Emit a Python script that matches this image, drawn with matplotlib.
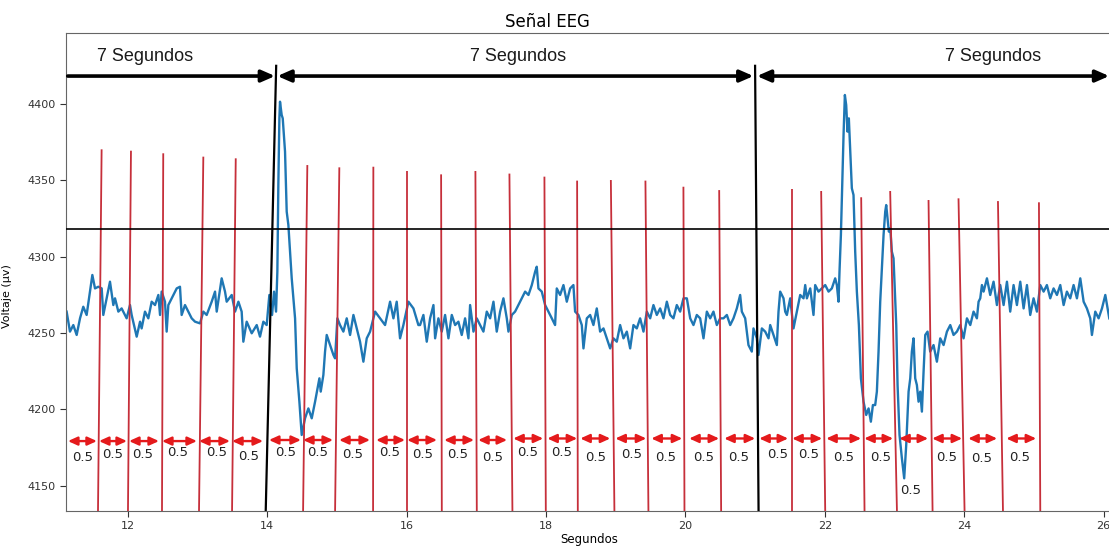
import matplotlib
matplotlib.use("Agg")
from matplotlib import pyplot as plt


# EEG trace (s, uV)
eeg_t = [
    11.124, 11.172, 11.220, 11.268, 11.316, 11.363, 11.411, 11.459, 11.493, 11.531,
    11.579, 11.627, 11.650, 11.746, 11.794, 11.818, 11.866, 11.913, 11.985, 12.033,
    12.057, 12.129, 12.177, 12.200, 12.248, 12.296, 12.344, 12.392, 12.440, 12.464,
    12.487, 12.535, 12.559, 12.583, 12.631, 12.703, 12.750, 12.774, 12.822, 12.870,
    12.918, 12.966, 13.038, 13.085, 13.133, 13.205, 13.253, 13.277, 13.348, 13.396,
    13.420, 13.492, 13.540, 13.588, 13.635, 13.659, 13.707, 13.779, 13.851, 13.898,
    13.946, 13.994, 14.032, 14.071, 14.099, 14.128, 14.147, 14.161, 14.176, 14.185,
    14.209, 14.224, 14.257, 14.281, 14.305, 14.329, 14.353, 14.401, 14.425, 14.463,
    14.496, 14.544, 14.592, 14.640, 14.688, 14.750, 14.769, 14.807, 14.831, 14.855,
    14.903, 14.951, 14.975, 15.008, 15.046, 15.094, 15.142, 15.190, 15.238, 15.285,
    15.333, 15.381, 15.429, 15.477, 15.549, 15.620, 15.692, 15.764, 15.812, 15.859,
    15.907, 15.955, 16.027, 16.099, 16.170,
    16.194, 16.242, 16.290, 16.338, 16.386, 16.410, 16.457, 16.505, 16.553, 16.601,
    16.649, 16.697, 16.744, 16.792, 16.840, 16.888, 16.912, 16.960, 17.007, 17.055,
    17.103, 17.151, 17.199, 17.247, 17.294, 17.342, 17.390, 17.438, 17.462, 17.510,
    17.557, 17.605, 17.653, 17.701, 17.749, 17.797, 17.845, 17.868, 17.892, 17.940,
    17.988, 18.036, 18.084, 18.131, 18.155, 18.203, 18.251, 18.299, 18.347, 18.394,
    18.418, 18.466, 18.514, 18.538, 18.586, 18.634, 18.681, 18.729, 18.777, 18.825,
    18.873, 18.921, 18.968, 19.016, 19.064, 19.112, 19.160, 19.208, 19.255, 19.303,
    19.351, 19.399, 19.447, 19.495, 19.542, 19.590, 19.638, 19.686, 19.734, 19.782,
    19.829, 19.877, 19.925, 19.973, 20.021, 20.069, 20.116, 20.164, 20.212, 20.260,
    20.308, 20.356, 20.403, 20.451, 20.499, 20.547, 20.595, 20.643, 20.690, 20.738,
    20.786, 20.810, 20.858, 20.905, 20.953,
    20.977, 21.025, 21.049, 21.097, 21.145, 21.193, 21.217, 21.264, 21.312, 21.336,
    21.360, 21.408, 21.432, 21.456, 21.504, 21.551, 21.599, 21.647, 21.695, 21.719,
    21.743, 21.791, 21.838, 21.862, 21.910, 21.958, 22.006, 22.054, 22.101, 22.149,
    22.173, 22.197, 22.211, 22.231, 22.250, 22.269, 22.288, 22.307, 22.326, 22.345,
    22.365, 22.388, 22.412, 22.436, 22.460, 22.489, 22.518, 22.556, 22.594, 22.628,
    22.661, 22.690, 22.723, 22.747, 22.771, 22.795, 22.819, 22.843, 22.867, 22.881,
    22.900, 22.919, 22.939, 22.962, 22.986, 23.005, 23.025, 23.044, 23.072, 23.106,
    23.139, 23.168, 23.202, 23.226, 23.249, 23.273, 23.297, 23.321, 23.345, 23.369,
    23.393, 23.417, 23.441, 23.474, 23.512, 23.560, 23.608, 23.656, 23.704, 23.752,
    23.800, 23.847, 23.895, 23.943, 23.991, 24.039, 24.087, 24.134, 24.182, 24.206,
    24.230, 24.254, 24.278, 24.326, 24.373, 24.421, 24.469, 24.517, 24.565, 24.613,
    24.660, 24.708, 24.756, 24.804, 24.852, 24.900, 24.947, 24.995, 25.043, 25.091,
    25.139, 25.186, 25.234, 25.282, 25.330, 25.378, 25.426, 25.473, 25.521, 25.569,
    25.617, 25.665, 25.713, 25.760, 25.808, 25.832, 25.880, 25.928, 25.976, 26.024,
    26.081,
]
eeg_v = [
    4264.0, 4250.9, 4255.2, 4248.7, 4259.6, 4267.2, 4261.8, 4277.1, 4288.0, 4279.2,
    4280.3, 4279.2, 4261.8, 4283.6, 4268.3, 4272.7, 4264.0, 4266.1, 4259.6, 4268.3,
    4261.8, 4247.6, 4257.4, 4253.0, 4264.0, 4259.6, 4270.5, 4268.3, 4274.9, 4261.8,
    4277.1, 4270.5, 4250.9, 4268.3, 4272.7, 4279.2, 4280.3, 4261.8, 4268.3, 4264.0,
    4259.6, 4257.4, 4256.3, 4264.0, 4261.8, 4270.5, 4277.1, 4264.0, 4285.8, 4277.1,
    4270.5, 4274.9, 4264.0, 4270.5, 4264.0, 4244.3, 4257.4, 4249.8, 4255.2, 4247.6,
    4257.4, 4255.2, 4274.9, 4261.8, 4277.1, 4264.0, 4290.2, 4346.9, 4390.6, 4401.5,
    4392.8, 4390.6, 4368.8, 4329.5, 4320.7, 4303.3, 4285.8, 4259.6, 4226.8, 4205.0,
    4183.2, 4194.1, 4200.6, 4194.1, 4205.0, 4220.3, 4211.6, 4222.5, 4237.8, 4248.7,
    4242.1, 4235.6, 4233.4, 4259.6, 4255.2, 4250.9, 4259.6, 4248.7, 4261.8, 4253.0,
    4244.3, 4231.2, 4246.5, 4250.9, 4264.0, 4259.6, 4255.2, 4270.5, 4259.6, 4270.5,
    4246.5, 4255.2, 4270.5, 4266.1, 4255.2,
    4255.2, 4261.8, 4244.3, 4259.6, 4268.3, 4246.5, 4259.6, 4250.9, 4261.8, 4246.5,
    4261.8, 4255.2, 4257.4, 4248.7, 4259.6, 4246.5, 4268.3, 4250.9, 4259.6, 4255.2,
    4250.9, 4264.0, 4259.6, 4270.5, 4250.9, 4264.0, 4272.7, 4259.6, 4250.9, 4261.8,
    4264.0, 4268.3, 4272.7, 4277.1, 4274.9, 4281.4, 4290.2, 4293.4, 4279.2, 4277.1,
    4268.3, 4264.0, 4259.6, 4255.2, 4279.2, 4274.9, 4281.4, 4270.5, 4279.2, 4281.4,
    4264.0, 4261.8, 4255.2, 4239.9, 4259.6, 4261.8, 4255.2, 4266.1, 4250.9, 4253.0,
    4246.5, 4239.9, 4246.5, 4244.3, 4255.2, 4246.5, 4250.9, 4239.9, 4255.2, 4253.0,
    4259.6, 4250.9, 4264.0, 4259.6, 4268.3, 4261.8, 4266.1, 4259.6, 4270.5, 4261.8,
    4259.6, 4268.3, 4264.0, 4272.7, 4272.7, 4259.6, 4255.2, 4261.8, 4259.6, 4246.5,
    4264.0, 4259.6, 4264.0, 4255.2, 4259.6, 4259.6, 4261.8, 4255.2, 4259.6, 4266.1,
    4274.9, 4264.0, 4259.6, 4242.1, 4237.8,
    4253.0, 4246.5, 4235.6, 4253.0, 4250.9, 4246.5, 4255.2, 4248.7, 4242.1, 4264.0,
    4277.1, 4272.7, 4264.0, 4261.8, 4272.7, 4253.0, 4264.0, 4274.9, 4272.7, 4281.4,
    4272.7, 4279.2, 4261.8, 4281.4, 4277.1, 4279.2, 4281.4, 4277.1, 4279.2, 4285.8,
    4281.4, 4270.5, 4290.2, 4314.2, 4346.9, 4379.7, 4405.9, 4399.3, 4381.9, 4390.6,
    4368.8, 4344.8, 4340.4, 4303.3, 4277.1, 4255.2, 4220.3, 4205.0, 4196.3, 4200.6,
    4191.9, 4202.8, 4202.8, 4211.6, 4237.8, 4270.5, 4292.3, 4314.2, 4329.5, 4333.8,
    4325.1, 4316.4, 4318.6, 4303.3, 4298.9, 4277.1, 4255.2, 4215.9, 4183.2, 4167.9,
    4154.8, 4176.6, 4211.6, 4220.3, 4237.8, 4246.5, 4220.3, 4215.9, 4205.0, 4211.6,
    4198.5, 4224.7, 4248.7, 4250.9, 4237.8, 4242.1, 4231.2, 4246.5, 4242.1, 4250.9,
    4255.2, 4248.7, 4250.9, 4255.2, 4246.5, 4259.6, 4255.2, 4264.0, 4259.6, 4270.5,
    4272.7, 4281.4, 4277.1, 4285.8, 4274.9, 4283.6, 4268.3, 4281.4, 4268.3, 4283.6,
    4264.0, 4281.4, 4268.3, 4283.6, 4266.1, 4281.4, 4261.8, 4272.7, 4264.0, 4281.4,
    4277.1, 4281.4, 4272.7, 4279.2, 4274.9, 4281.4, 4268.3, 4277.1, 4272.7, 4281.4,
    4272.7, 4285.8, 4270.5, 4266.1, 4259.6, 4248.7, 4264.0, 4259.6, 4266.1, 4274.9,
    4259.6,
]

# red half-second markers (x at the bottom, x at the top, top value)
mark_x_bottom = [11.574, 12.004, 12.492, 13.023, 13.497, 14.516, 14.975, 15.520, 16.003,
                 16.506, 17.008, 17.519, 17.998, 18.457, 18.982, 19.470, 19.987, 20.513,
                 21.528, 22.006, 22.570, 23.035, 23.546, 24.005, 24.556, 25.091]
mark_x_top = [11.626, 12.047, 12.510, 13.085, 13.550, 14.577, 15.036, 15.524, 16.003,
              16.496, 16.988, 17.476, 17.978, 18.447, 18.931, 19.427, 19.972, 20.485,
              21.528, 21.948, 22.522, 22.938, 23.488, 23.918, 24.484, 25.072]
mark_top = [4370.3, 4369.4, 4367.7, 4365.5, 4364.4, 4360.0, 4358.5, 4358.9, 4356.1,
            4353.9, 4356.1, 4354.4, 4352.4, 4349.8, 4350.2, 4349.8, 4345.8, 4343.6,
            4344.1, 4343.0, 4338.9, 4343.0, 4337.1, 4338.2, 4336.4, 4335.6]

# 0.5 s interval arrows
iv_start = [11.143, 11.588, 12.019, 12.492, 13.023, 13.497, 14.026, 14.515, 15.032,
            15.563, 16.008, 16.539, 17.027, 17.530, 18.019, 18.492, 18.995, 19.511,
            20.054, 20.557, 21.059, 21.532, 22.020, 22.565, 23.067, 23.540, 24.057,
            24.603]
iv_end = [11.559, 11.990, 12.449, 12.994, 13.468, 13.942, 14.486, 14.946, 15.477,
          15.979, 16.438, 16.969, 17.443, 17.961, 18.449, 18.923, 19.440, 19.956,
          20.485, 21.002, 21.475, 21.963, 22.522, 22.981, 23.483, 23.971, 24.473,
          25.033]
iv_y = [4179.2] * 6 + [4179.9] * 7 + [4180.9] * 15
iv_label_x = [11.359, 11.789, 12.220, 12.722, 13.281, 13.741, 14.271, 14.731, 15.233,
              15.764, 16.237, 16.740, 17.242, 17.730, 18.218, 18.706, 19.222, 19.710,
              20.255, 20.758, 21.317, 21.762, 22.264, 22.795, 23.226, 23.742, 24.245,
              24.790]
iv_label_y = [4168.7, 4170.1, 4170.1, 4171.4, 4171.4, 4169.4, 4171.4, 4171.4, 4170.1,
              4171.4, 4170.1, 4170.1, 4168.7, 4172.0, 4171.4, 4168.7, 4170.7, 4168.7,
              4168.7, 4168.7, 4170.1, 4170.1, 4168.7, 4168.7, 4147.1, 4168.7, 4168.1,
              4168.7]
iv_text = "0.5"

# 7 s windows
win_x_bottom = [13.98, 21.05]
win_x_top = [14.13, 21.00]
win_top = 4425.0
win_start = [11.14, 14.147, 21.026]
win_end = [14.114, 20.977, 26.08]
win_y = 4418.3
win_label_x = [12.25, 17.593, 24.416]
win_label_y = 4430.8
win_text = "7 Segundos"

threshold = 4318.1

y_min, y_max = 4133.4, 4446.5
x_min, x_max = 11.115, 26.12

fig = plt.figure(figsize=(11.09, 5.46), dpi=100)
ax = fig.add_axes([66 / 1109, 35 / 546, 1046 / 1109, 478 / 546])

ax.plot(eeg_t, eeg_v, color="#1f77b4", lw=1.7, zorder=2)

# half-second markers on top of the trace
for xb, xt, top in zip(mark_x_bottom, mark_x_top, mark_top):
    ax.plot([xb, xt], [y_min, top], color="#c62f3a", lw=1.3, zorder=3,
            solid_capstyle="butt")

for xb, xt in zip(win_x_bottom, win_x_top):
    ax.plot([xb, xt], [y_min, win_top], color="black", lw=1.6, zorder=4)

ax.axhline(threshold, color="black", lw=1.2, zorder=4)

for s, e, y in zip(iv_start, iv_end, iv_y):
    ax.annotate("", xy=(e, y), xytext=(s, y),
                arrowprops=dict(arrowstyle="<|-|>,head_length=0.55,head_width=0.25",
                                color="#e41a1c", lw=1.7, mutation_scale=10,
                                shrinkA=0, shrinkB=0), zorder=5)
for x, y in zip(iv_label_x, iv_label_y):
    ax.text(x, y, iv_text, ha="center", va="center", fontsize=9.5, color="#222222",
            zorder=5)

win_styles = ["-|>", "<|-|>", "<|-|>"]
for s, e, st in zip(win_start, win_end, win_styles):
    ax.annotate("", xy=(e, win_y), xytext=(s, win_y),
                arrowprops=dict(arrowstyle=st + ",head_length=0.8,head_width=0.35",
                                color="black", lw=2.6, mutation_scale=10,
                                shrinkA=0, shrinkB=0), zorder=5)
for x in win_label_x:
    ax.text(x, win_label_y, win_text, ha="center", va="center", fontsize=13,
            family="Liberation Sans", color="#1a1a1a", zorder=5)

ax.set_xlim(x_min, x_max)
ax.set_ylim(y_min, y_max)
ax.set_xticks(range(12, 27, 2))
ax.set_yticks(range(4150, 4401, 50))
ax.tick_params(labelsize=8, colors="#333333", length=4)
for sp in ax.spines.values():
    sp.set_color("#666666")

ax.set_title("Señal EEG", fontsize=12, x=0.46, pad=4)
ax.set_xlabel("Segundos", fontsize=8.5)
ax.set_ylabel("Voltaje (µv)", fontsize=8)
ax.xaxis.set_label_coords(0.5, -0.045)
ax.yaxis.set_label_coords(-0.052, 0.45)

fig.savefig("out.png", dpi=100)
